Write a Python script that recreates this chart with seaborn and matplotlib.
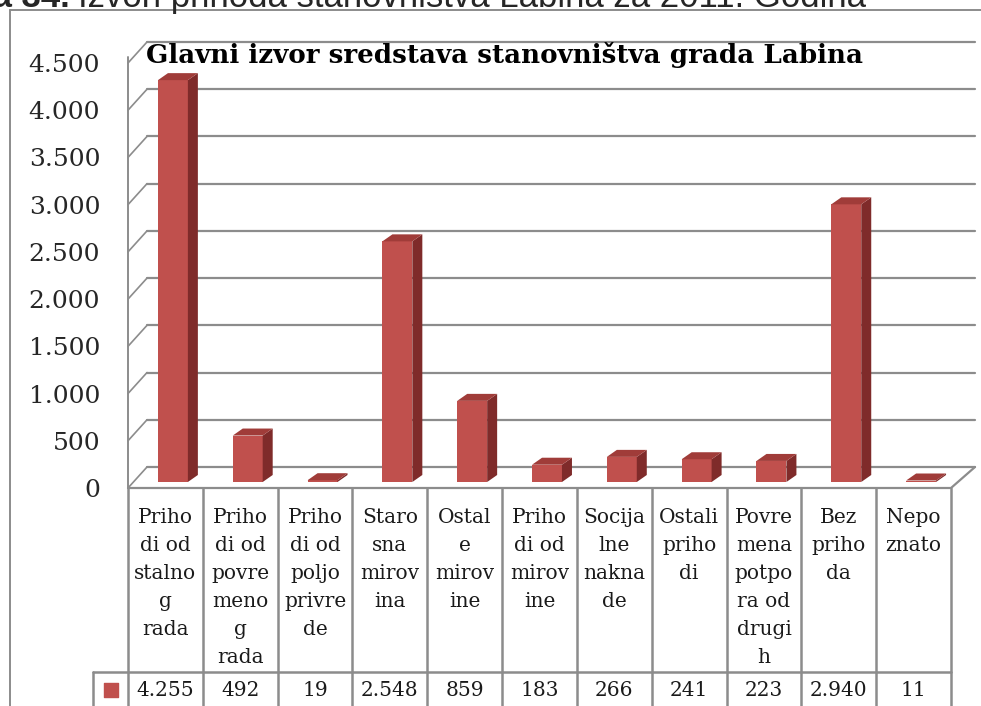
import matplotlib
matplotlib.use("Agg")
import matplotlib.pyplot as plt
import matplotlib.transforms as mtransforms
from matplotlib.patches import Polygon
import seaborn as sns
import pandas as pd

# data
categories = [
    "Priho\ndi od\nstalno\ng\nrada",
    "Priho\ndi od\npovre\nmeno\ng\nrada",
    "Priho\ndi od\npoljo\nprivre\nde",
    "Staro\nsna\nmirov\nina",
    "Ostal\ne\nmirov\nine",
    "Priho\ndi od\nmirov\nine",
    "Socija\nlne\nnakna\nde",
    "Ostali\npriho\ndi",
    "Povre\nmena\npotpo\nra od\ndrugi\nh",
    "Bez\npriho\nda",
    "Nepo\nznato",
]
values = [4255, 492, 19, 2548, 859, 183, 266, 241, 223, 2940, 11]
y_ticks = [0, 500, 1000, 1500, 2000, 2500, 3000, 3500, 4000, 4500]
chart_title = "Glavni izvor sredstava stanovništva grada Labina"
caption_bold = "Tablica 34."
caption_rest = "Izvori prihoda stanovništva Labina za 2011. Godina"


def fmt(v):
    return f"{v:,}".replace(",", ".")


sns.set_theme(style="white")
plt.rcParams["font.family"] = ["DejaVu Serif"]

W, H = 981, 706
fig = plt.figure(figsize=(W / 100, H / 100), dpi=100)

front = "#C0504D"
side = "#7F2B2A"
top = "#A03C39"
grid = "#8C8C8C"

# plot area (front plane), pixel placement
x_left, x_right, y_zero, y_top = 128, 951, 488, 63
ax = fig.add_axes([x_left / W, (H - y_zero) / H, (x_right - x_left) / W, (y_zero - y_top) / H])

df = pd.DataFrame({"cat": categories, "val": values})
sns.barplot(data=df, x="cat", y="val", color=front, width=0.4, saturation=1, ax=ax, zorder=3)
ax.set_ylim(0, 4500)
ax.set_xlim(-0.5, len(categories) - 0.5)
ax.set_yticks(y_ticks)
ax.set_yticklabels([fmt(t) for t in y_ticks], fontsize=18)
ax.tick_params(axis="y", length=0, pad=20)
ax.tick_params(axis="x", labelbottom=False, length=0)
ax.set_xlabel("")
ax.set_ylabel("")
for s in ax.spines.values():
    s.set_visible(False)
ax.patch.set_alpha(0)

ident = mtransforms.IdentityTransform()
wall = (19, 21)      # depth of the back wall, px
shift = (7.5, 6)     # bars stand in the middle of the floor
depth = (10, 7)      # bar depth, px

# back wall gridlines + left wall diagonals
for t in y_ticks:
    fx, fy = ax.transData.transform((-0.5, t))
    rx, _ = ax.transData.transform((len(categories) - 0.5, t))
    ax.add_line(plt.Line2D([fx + wall[0], rx + wall[0] + 5], [fy + wall[1], fy + wall[1]],
                           transform=ident, color=grid, lw=1.6, zorder=1, clip_on=False))
    ax.add_line(plt.Line2D([fx, fx + wall[0]], [fy, fy + wall[1]],
                           transform=ident, color=grid, lw=1.2, zorder=1, clip_on=False))

# left wall front edge and floor
fx0, fy0 = ax.transData.transform((-0.5, 0))
fx1, fy1 = ax.transData.transform((-0.5, 4500))
rx0, _ = ax.transData.transform((len(categories) - 0.5, 0))
ax.add_line(plt.Line2D([fx0, fx1], [fy0, fy1 + 6], transform=ident, color=grid, lw=1.4, zorder=1, clip_on=False))
ax.add_line(plt.Line2D([fx0, rx0, rx0 + wall[0] + 5], [fy0, fy0, fy0 + wall[1]],
                       transform=ident, color=grid, lw=1.6, zorder=1, clip_on=False))

# 3d look for each bar
for p in ax.patches[: len(values)]:
    x0, w, h = p.get_x(), p.get_width(), p.get_height()
    (ax0, ay0) = ax.transData.transform((x0, 0))
    (ax1, ay1) = ax.transData.transform((x0 + w, h))
    ax0 += shift[0]; ax1 += shift[0]; ay0 += shift[1]; ay1 += shift[1]
    ay1 = max(ay1, ay0 + 1.5)
    p.set_visible(False)
    dx, dy = depth
    faces = [
        ([(ax0, ay0), (ax1, ay0), (ax1, ay1), (ax0, ay1)], front),
        ([(ax1, ay0), (ax1 + dx, ay0 + dy), (ax1 + dx, ay1 + dy), (ax1, ay1)], side),
        ([(ax0, ay1), (ax1, ay1), (ax1 + dx, ay1 + dy), (ax0 + dx, ay1 + dy)], top),
    ]
    for verts, c in faces:
        ax.add_patch(Polygon(verts, closed=True, transform=ident, facecolor=c,
                             edgecolor="none", zorder=3, clip_on=False))

# data table below the chart, sharing the category positions
tab = fig.add_axes([x_left / W, 0, (x_right - x_left) / W, (H - y_zero) / H])
tab.set_xlim(ax.get_xlim())
tab.set_ylim(H - y_zero, 0)
tab.axis("off")
n = len(categories)
row_y = 184
key_x = -0.5 - 35 / ((x_right - x_left) / n)
tcol = "#8C8C8C"
for i in range(n + 1):
    tab.plot([i - 0.5, i - 0.5], [0, H - y_zero], color=tcol, lw=1.8, clip_on=False)
tab.plot([key_x, n - 0.5], [row_y, row_y], color=tcol, lw=1.8, clip_on=False)
tab.plot([key_x, key_x], [row_y, H - y_zero], color=tcol, lw=1.8, clip_on=False)
for i, (c, v) in enumerate(zip(categories, values)):
    tab.text(i, 20, c, ha="center", va="top", fontsize=14.5, linespacing=1.6, color="#1a1a1a")
    tab.text(i, 202, fmt(v), ha="center", va="center", fontsize=14.5, color="#1a1a1a")
tab.scatter([(key_x - 0.5) / 2], [202], marker="s", s=95, color=front, clip_on=False)

# chart title
fig.text(504 / W, (H - 55) / H, chart_title, ha="center", va="center",
         fontsize=18.8, fontweight="bold", color="black")

# outer frame
fig.add_artist(plt.Line2D([10 / W, 1], [(H - 10) / H, (H - 10) / H], color="#8C8C8C", lw=1.4))
fig.add_artist(plt.Line2D([10 / W, 10 / W], [0, (H - 10) / H], color="#8C8C8C", lw=1.4))

# page caption, cut at the top and left edges as in the source
base_y = (H - 7) / H
fig.text(70 / W, base_y, caption_bold, ha="right", va="baseline",
         fontsize=25, fontweight="bold", family=["Liberation Sans"])
fig.text(78 / W, base_y, caption_rest, ha="left", va="baseline", fontsize=25,
         family=["Liberation Sans"])

fig.savefig("out.png", dpi=100)
plt.close(fig)
